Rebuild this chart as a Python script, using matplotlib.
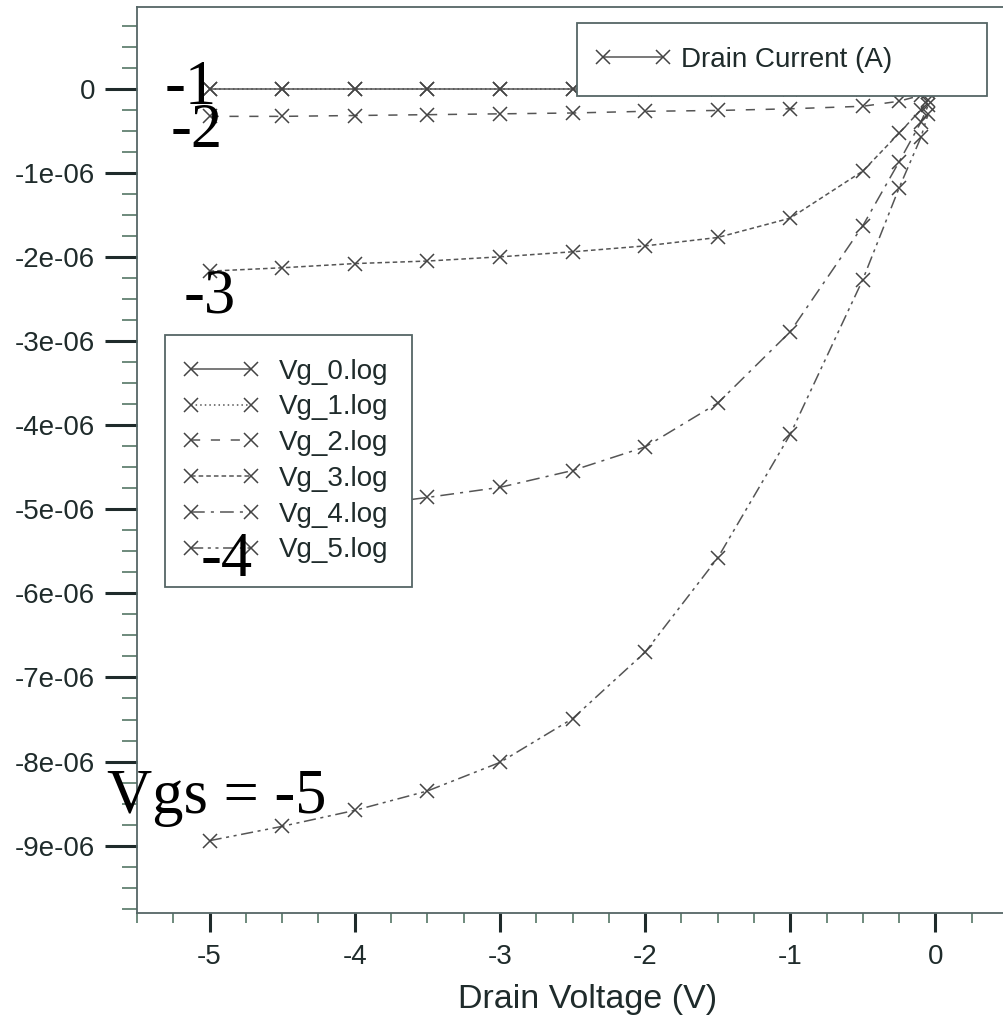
import matplotlib.pyplot as plt
from matplotlib.lines import Line2D
from matplotlib.legend_handler import HandlerLine2D
from matplotlib.ticker import MultipleLocator, FuncFormatter

# drain voltage sweep (V)
vd = [-5, -4.5, -4, -3.5, -3, -2.5, -2, -1.5, -1, -0.5, -0.25, -0.1, -0.05]

# drain current (A) for each gate voltage file
vg_0 = [0.0] * 13
vg_1 = [-0.005e-6] * 13
vg_2 = [-0.33e-6, -0.33e-6, -0.32e-6, -0.31e-6, -0.30e-6, -0.29e-6, -0.27e-6,
        -0.26e-6, -0.24e-6, -0.21e-6, -0.15e-6, -0.08e-6, -0.04e-6]
vg_3 = [-2.17e-6, -2.13e-6, -2.08e-6, -2.05e-6, -2.00e-6, -1.94e-6, -1.87e-6,
        -1.77e-6, -1.54e-6, -0.98e-6, -0.53e-6, -0.25e-6, -0.13e-6]
vg_4 = [-5.14e-6, -5.06e-6, -4.97e-6, -4.86e-6, -4.74e-6, -4.54e-6, -4.26e-6,
        -3.74e-6, -2.89e-6, -1.63e-6, -0.87e-6, -0.40e-6, -0.20e-6]
vg_5 = [-8.94e-6, -8.77e-6, -8.58e-6, -8.35e-6, -8.01e-6, -7.49e-6, -6.70e-6,
        -5.58e-6, -4.11e-6, -2.27e-6, -1.18e-6, -0.58e-6, -0.30e-6]

labels = ['Vg_0.log', 'Vg_1.log', 'Vg_2.log', 'Vg_3.log', 'Vg_4.log', 'Vg_5.log']
styles = ['-', (0, (1, 2)), (0, (6, 7)), (0, (3, 2)), (0, (9, 4, 2, 4)),
          (0, (8, 3, 2, 3, 2, 3))]

ink = '#1f2b2b'
plt.rcParams['font.family'] = ['Liberation Sans', 'DejaVu Sans']

fig = plt.figure(figsize=(10.04, 10.18), dpi=100)
ax = fig.add_axes([137 / 1004, 1 - 913 / 1018, 871 / 1004, 906 / 1018])

handles = []
for ys, lab, ls in zip([vg_0, vg_1, vg_2, vg_3, vg_4, vg_5], labels, styles):
    h, = ax.plot(vd, ys, linestyle=ls, color='#555555', lw=1.1, marker='x',
                 ms=10, mew=1.1, mec='#444444', label=lab)
    handles.append(h)

ax.set_xlim(-5.5, 0.5)
ax.set_ylim(-9.8e-6, 0.97e-6)

ax.xaxis.set_major_locator(MultipleLocator(1))
ax.xaxis.set_minor_locator(MultipleLocator(0.25))
ax.yaxis.set_major_locator(MultipleLocator(1e-6))
ax.yaxis.set_minor_locator(MultipleLocator(0.25e-6))
ax.xaxis.set_major_formatter(FuncFormatter(lambda v, p: '%g' % round(v)))
ax.yaxis.set_major_formatter(FuncFormatter(
    lambda v, p: '0' if abs(v) < 1e-12 else '%de-06' % round(v / 1e-6)))

ax.tick_params(axis='y', which='major', direction='out', length=23, width=2.2,
               pad=7, labelsize=20, colors=ink)
ax.tick_params(axis='y', which='minor', direction='out', length=11, width=1.2,
               colors='#557766')
ax.tick_params(axis='x', which='major', direction='out', length=14, width=2.2,
               pad=8, labelsize=20, colors=ink)
ax.tick_params(axis='x', which='minor', direction='out', length=7, width=1.2,
               colors='#557766')
for s in ax.spines.values():
    s.set_color('#556666')
    s.set_linewidth(1.3)

ax.set_xlabel('Drain Voltage (V)', fontsize=24.5, color=ink)
ax.xaxis.set_label_coords(0.517, -0.078)

hmap = {Line2D: HandlerLine2D(marker_pad=0.1)}

leg = ax.legend(handles=handles, loc='upper left', numpoints=2,
                handler_map=hmap,
                bbox_to_anchor=(165 / 1004, 1 - 335 / 1018),
                bbox_transform=fig.transFigure, fontsize=20, frameon=True,
                fancybox=False, framealpha=1, handlelength=2.36,
                labelspacing=0.35, borderpad=0.85, borderaxespad=0,
                handletextpad=0.9, edgecolor='#556666')
leg.get_frame().set_linewidth(1.3)
for t in leg.get_texts():
    t.set_color(ink)
ax.add_artist(leg)

proxy = Line2D([], [], color='#555555', lw=1.1, marker='x', ms=10, mew=1.1,
               mec='#444444')
leg2 = ax.legend([proxy], ['Drain Current (A)'], loc='upper left', numpoints=2,
                 handler_map=hmap,
                 bbox_to_anchor=(577 / 1004, 1 - 23 / 1018 - 0.01,
                                 410 / 1004, 0.01),
                 bbox_transform=fig.transFigure, mode='expand', fontsize=20,
                 frameon=True, fancybox=False, framealpha=1,
                 handlelength=2.35, borderpad=0.85,
                 borderaxespad=0, handletextpad=0.55, edgecolor='#556666')
leg2.get_frame().set_linewidth(1.3)
leg2.get_texts()[0].set_color(ink)

serif = dict(family='Liberation Serif', fontsize=45, color='black',
             ha='left', va='center', zorder=10)
ax.text(-5.31, 0.0, '-1', **serif)
ax.text(-5.27, -0.52e-6, '-2', **serif)
ax.text(-5.18, -2.48e-6, '-3', **serif)
ax.text(-5.06, -5.62e-6, '-4', **serif)
ax.text(-5.71, -8.43e-6, 'Vgs = -5', **serif)

fig.savefig('out.png', dpi=100)
